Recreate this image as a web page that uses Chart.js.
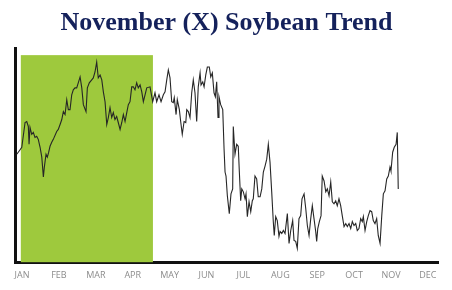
<!DOCTYPE html>
<html>
<head>
<meta charset="utf-8">
<script src="https://cdn.jsdelivr.net/npm/chart.js@4.4.1/dist/chart.umd.min.js"></script>
<style>
  html, body { margin: 0; padding: 0; background: #fff; }
  #wrap { width: 452px; height: 290px; }
</style>
</head>
<body>
<div id="wrap"><canvas id="trend"></canvas></div>
<script>
// --- data ---
const months = ["JAN", "FEB", "MAR", "APR", "MAY", "JUN", "JUL", "AUG", "SEP", "OCT", "NOV", "DEC"];
const monthLen = 30.44;

// day of year
const days = [
  -4.4, -3.1, -0.2, 2.5, 3.9, 5.2, 5.8, 6.6, 8.0, 9.3, 10.7, 12.1, 13.4, 14.9, 16.3, 17.6, 18.4, 19.8, 20.9, 22.0,
  23.1, 24.5, 25.8, 28.6, 29.9, 31.4, 32.8, 34.1, 35.5, 36.9, 38.2, 39.6, 41.0, 42.3, 43.7, 45.1, 46.4, 47.9, 49.3, 50.6,
  52.8, 53.9, 55.5, 57.5, 58.8, 60.2, 61.6, 62.9, 64.4, 65.8, 67.1, 68.5, 69.9, 71.2, 72.6, 74.0, 75.3, 76.7, 78.1, 79.4,
  80.9, 82.3, 83.6, 85.0, 86.4, 87.7, 89.1, 90.5, 91.8, 93.2, 94.6, 95.9, 97.4, 98.8, 100.1, 101.5, 102.9, 105.6, 107.8, 109.7,
  111.1, 113.0, 114.7, 116.6, 118.0, 119.4, 120.7, 122.1, 123.5, 124.8, 125.6, 127.1, 128.1, 129.8, 130.9, 132.2, 133.7, 135.1, 135.9, 137.2,
  138.6, 140.0, 141.3, 142.7, 144.1, 145.4, 146.9, 147.7, 149.1, 150.2, 151.6, 152.9, 154.5, 155.7, 157.0, 158.4, 159.5, 160.6, 161.7, 162.5,
  163.9, 165.6, 166.7, 167.5, 168.3, 169.4, 171.0, 172.4, 173.8, 174.3, 175.7, 177.1, 178.4, 179.3, 180.4, 181.3, 182.6, 184.0, 184.8, 185.9,
  187.3, 188.7, 190.0, 190.8, 192.2, 193.6, 194.9, 196.4, 197.8, 199.1, 200.5, 201.9, 203.2, 204.6, 206.0, 207.3, 208.1, 209.3, 210.6, 212.0,
  212.9, 214.3, 215.6, 217.0, 218.9, 220.3, 221.7, 223.3, 224.4, 225.8, 227.1, 228.5, 229.9, 231.0, 232.7, 234.1, 235.4, 236.8, 238.2, 239.5,
  240.9, 242.3, 243.1, 244.0, 245.3, 246.7, 247.7, 249.2, 250.6, 251.9, 253.3, 254.7, 256.0, 257.4, 258.8, 260.1, 261.5, 262.9, 264.2, 265.7,
  267.1, 268.4, 269.8, 271.2, 272.5, 273.9, 275.3, 276.6, 278.0, 279.4, 280.7, 281.6, 283.0, 284.4, 285.7, 287.1, 288.5, 289.8, 291.2, 292.6,
  293.9, 295.4, 296.8, 298.1, 299.5, 300.9, 302.2, 303.6, 304.4, 305.8, 307.1, 308.6, 309.6, 310.4
];

// price, cents per bushel
const prices = [
  1009, 1011, 1016, 1041, 1042, 1037, 1019, 1036, 1029, 1031, 1026, 1027, 1024, 1016, 1006, 986, 996, 1009, 1006, 1011,
  1017, 1021, 1024, 1032, 1034, 1039, 1044, 1052, 1049, 1064, 1054, 1054, 1069, 1074, 1076, 1076, 1081, 1087, 1076, 1059,
  1052, 1076, 1081, 1084, 1086, 1092, 1102, 1086, 1089, 1084, 1072, 1062, 1039, 1046, 1056, 1046, 1051, 1044, 1047, 1041,
  1034, 1041, 1049, 1042, 1051, 1059, 1062, 1077, 1077, 1074, 1081, 1076, 1079, 1072, 1062, 1069, 1076, 1077, 1062, 1071,
  1062, 1069, 1062, 1069, 1072, 1084, 1094, 1086, 1062, 1061, 1066, 1049, 1064, 1054, 1042, 1029, 1042, 1041, 1054, 1052,
  1046, 1071, 1084, 1071, 1042, 1077, 1091, 1079, 1082, 1077, 1089, 1097, 1097, 1087, 1091, 1071, 1067, 1082, 1046, 1067,
  1059, 1054, 1014, 991, 987, 967, 949, 969, 974, 1037, 1009, 1019, 1017, 991, 962, 974, 971, 964, 969, 946,
  961, 951, 962, 964, 987, 984, 966, 966, 974, 991, 997, 1004, 1019, 1001, 971, 941, 927, 946, 942, 926,
  931, 929, 932, 929, 949, 919, 932, 942, 922, 921, 914, 944, 947, 964, 969, 954, 937, 927, 944, 957,
  944, 931, 921, 934, 941, 947, 987, 982, 971, 974, 967, 981, 961, 959, 962, 957, 964, 957, 947, 936,
  939, 936, 939, 934, 941, 937, 939, 932, 934, 944, 941, 946, 932, 941, 947, 952, 951, 942, 939, 944,
  927, 919, 947, 969, 972, 984, 987, 996, 992, 1011, 1016, 1019, 1031, 974
];

// highlighted window (Jan - Apr)
const shadeStart = -1;
const shadeEnd = 108;
const shadeTop = 1109;

const xMin = -5.8, xMax = 343.2;
const yMin = 900, yMax = 1116;

const shadePlugin = {
    id: 'shade',
    beforeDatasetsDraw(chart) {
        const { ctx, scales } = chart;
        const x0 = scales.x.getPixelForValue(shadeStart);
        const x1 = scales.x.getPixelForValue(shadeEnd);
        const y0 = scales.y.getPixelForValue(shadeTop);
        const y1 = scales.y.getPixelForValue(yMin);
        ctx.save();
        ctx.fillStyle = '#9ec93d';
        ctx.fillRect(x0, y0, x1 - x0, y1 - y0);
        ctx.restore();
    }
};

new Chart(document.getElementById('trend'), {
    type: 'line',
    data: {
        datasets: [{
            data: days.map((d, i) => ({ x: d, y: prices[i] })),
            borderColor: '#262626',
            borderWidth: 1.1,
            pointRadius: 0,
            tension: 0,
            fill: false
        }]
    },
    options: {
        responsive: true,
        maintainAspectRatio: false,
        animation: false,
        layout: { padding: { left: 15, right: 14, bottom: 1 } },
        plugins: {
            legend: { display: false },
            tooltip: { enabled: false },
            title: {
                display: true,
                text: 'November (X) Soybean Trend',
                color: '#14215b',
                font: { family: 'Liberation Serif', size: 26, weight: 'bold' },
                padding: { top: 8, bottom: 9 }
            }
        },
        scales: {
            x: {
                type: 'linear',
                min: xMin,
                max: xMax,
                afterBuildTicks: scale => {
                    scale.ticks = months.map((m, i) => ({ value: i * monthLen }));
                },
                ticks: {
                    autoSkip: false,
                    maxRotation: 0,
                    padding: 8,
                    color: '#8c8c8c',
                    font: { family: 'Open Sans', size: 9 },
                    callback: (v, i) => months[i]
                },
                grid: { display: false, drawTicks: false },
                border: { color: '#111', width: 3 }
            },
            y: {
                min: yMin,
                max: yMax,
                ticks: { display: false },
                grid: { display: false, drawTicks: false },
                border: { color: '#111', width: 3 }
            }
        }
    },
    plugins: [shadePlugin]
});
</script>
</body>
</html>
